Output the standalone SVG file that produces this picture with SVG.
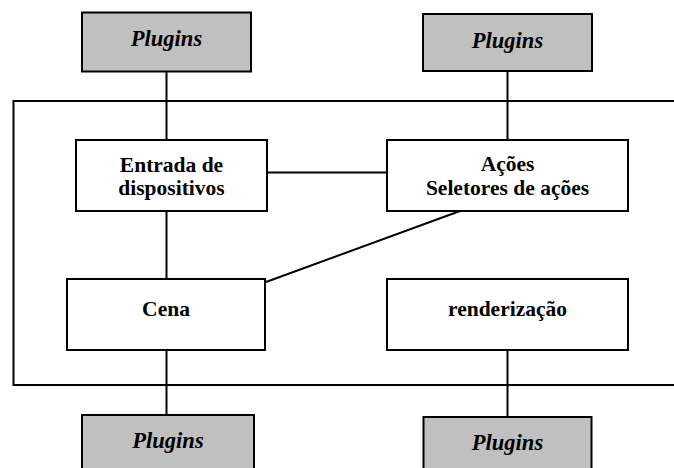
<svg xmlns="http://www.w3.org/2000/svg" width="674" height="468" viewBox="0 0 674 468">
<style>
.box{fill:#ffffff;stroke:#000;stroke-width:2}
.plug{fill:#c0c0c0;stroke:#000;stroke-width:2}
.ln{fill:none;stroke:#000;stroke-width:2}
.t{font-family:"Liberation Serif","Times New Roman",serif;font-weight:bold;font-size:21.5px;text-anchor:middle;fill:#000}
.pt{font-family:"Liberation Serif","Times New Roman",serif;font-weight:bold;font-style:italic;font-size:22.5px;text-anchor:middle;fill:#000}
</style>
<rect width="674" height="468" fill="#ffffff"/>
<g id="frame"><path class="ln" d="M675,101 H13.5 V385 H675"/></g>
<g id="connectors">
<line class="ln" x1="166.5" y1="72" x2="166.5" y2="140"/>
<line class="ln" x1="166.5" y1="211" x2="166.5" y2="279"/>
<line class="ln" x1="166.5" y1="350" x2="166.5" y2="415"/>
<line class="ln" x1="507.5" y1="71" x2="507.5" y2="140"/>
<line class="ln" x1="507.5" y1="350" x2="507.5" y2="417"/>
<line class="ln" x1="267" y1="172.5" x2="387" y2="172.5"/>
<line class="ln" x1="460" y1="211" x2="266" y2="282"/>
</g>
<g id="plugins-tl"><rect class="plug" x="82" y="12.5" width="169" height="59"/><text class="pt" x="166.5" y="46">Plugins</text></g>
<g id="plugins-tr"><rect class="plug" x="423" y="14" width="169" height="57"/><text class="pt" x="507.5" y="47.5">Plugins</text></g>
<g id="entrada"><rect class="box" x="76" y="140" width="191" height="71"/><text class="t" x="171.5" y="171.5">Entrada de</text><text class="t" x="171.5" y="195">dispositivos</text></g>
<g id="acoes"><rect class="box" x="387" y="140" width="241" height="71"/><text class="t" x="507.5" y="170.5">Ações</text><text class="t" x="507.5" y="195">Seletores de ações</text></g>
<g id="cena"><rect class="box" x="67" y="279" width="198" height="71"/><text class="t" x="166" y="316">Cena</text></g>
<g id="renderizacao"><rect class="box" x="387" y="279" width="241" height="71"/><text class="t" x="507.5" y="316">renderização</text></g>
<g id="plugins-bl"><rect class="plug" x="82" y="415" width="172" height="60"/><text class="pt" x="168" y="448">Plugins</text></g>
<g id="plugins-br"><rect class="plug" x="423.5" y="417" width="168" height="60"/><text class="pt" x="507.5" y="449.5">Plugins</text></g>
</svg>
